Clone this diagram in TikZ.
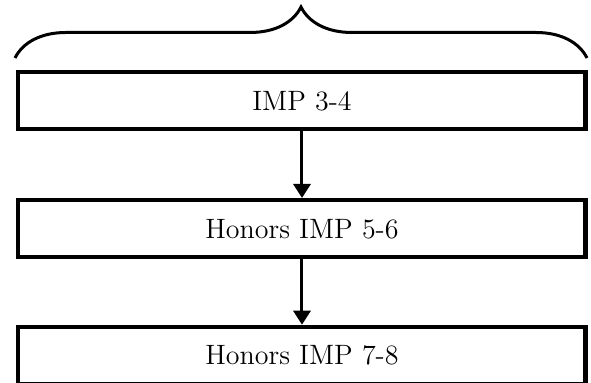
\documentclass[tikz,border=0pt]{standalone}
\usepackage{tikz}
\usetikzlibrary{positioning}
\usetikzlibrary{arrows.meta}
\usetikzlibrary{decorations.pathreplacing}
\pgfdeclarelayer{nodelayer}
\pgfdeclarelayer{edgelayer}
\pgfsetlayers{nodelayer,edgelayer,main}
\tikzset{
    course/.style = {draw, line width=2.25pt, fill=white, minimum width=283.75pt,
                     minimum height=28.5pt, inner sep=0pt, font=\fontsize{14}{16}\selectfont},
    next/.style = {line width=1.5pt, -{Triangle[width=8.5pt,length=7pt]}},
    group/.style = {line width=1.5pt, decorate, decoration={brace, amplitude=25.5pt}}
}

\begin{document}
\begin{tikzpicture}[x=0.5pt, y=0.5pt]
  \useasboundingbox (0, 0) rectangle (591, -383);
  \begin{pgfonlayer}{nodelayer}
    \node [style=course] (imp34) at (302, -100.75) {IMP 3-4};
    \node [style=course] (imp56) at (302, -228.75) {Honors IMP 5-6};
    \node [style=course] (imp78) at (302, -355.5) {Honors IMP 7-8};
    \coordinate (bl) at (15, -58);
    \coordinate (br) at (587, -58);
  \end{pgfonlayer}
  \begin{pgfonlayer}{edgelayer}
    \draw [style=next] (imp34) to (imp56);
    \draw [style=next] (imp56) to (imp78);
    \draw [style=group] (bl) to (br);
  \end{pgfonlayer}
\end{tikzpicture}
\end{document}
